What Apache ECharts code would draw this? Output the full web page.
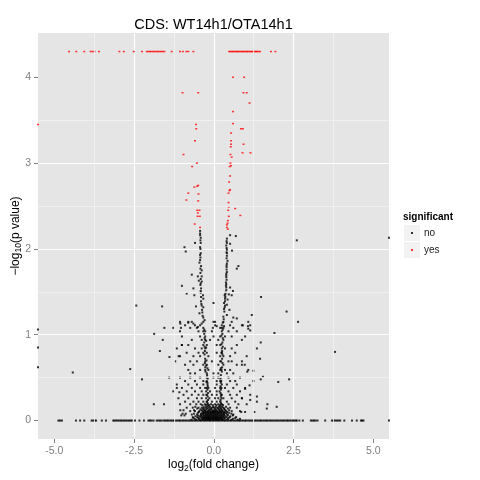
<!DOCTYPE html>
<html><head><meta charset="utf-8">
<script src="https://cdn.jsdelivr.net/npm/echarts@6/dist/echarts.min.js"></script>
<style>html,body{margin:0;padding:0;background:#fff}#c{width:480px;height:480px}</style>
</head><body><div id="c"></div>
<script>
// axis limits (ggplot-style 5% expansion), ticks and minor grid positions
const X_MIN = -5.51, X_MAX = 5.49, Y_MIN = -0.215, Y_MAX = 4.516;
const xTicks = [-5, -2.5, 0, 2.5, 5];
const yTicks = [0, 1, 2, 3, 4];
const xMinor = [-3.75, -1.25, 1.25, 3.75];
const yMinor = [0.5, 1.5, 2.5, 3.5];
const categories = ['no', 'yes'];

// significant = yes : points at the minimum p-value (-log10 p = 4.30)
const yesTopY = 4.30;
const yesTopX = [-4.54,-4.31,-4.06,-3.86,-3.80,-3.74,-3.60,-2.96,-2.82,-2.51,-2.25,-2.10,-2.05,-2.00,-1.95,-1.90,-1.85,-1.80,-1.75,-1.70,-1.65,-1.60,-1.55,-1.32,-1.06,-0.97,-0.86,-0.80,-0.64,
  0.48,0.52,0.56,0.60,0.64,0.68,0.72,0.76,0.80,0.84,0.88,0.92,0.96,1.00,1.04,1.08,1.12,1.16,1.20,1.24,1.28,1.32,1.36,1.40,1.45,1.79,1.93];
// significant = yes : other points [log2FC, -log10 p]
const yesPoints = [[-Infinity,3.45],[-0.98,3.82],[-0.49,3.82],[0.60,4.0],[0.95,4.0],[0.93,3.82],[1.03,3.82],[1.12,3.70],[0.60,3.60],[0.60,3.46],
  [-0.56,3.45],[-0.55,3.40],[0.54,3.35],[0.85,3.40],[0.91,3.40],[-0.59,3.26],[0.54,3.26],[0.54,3.22],[0.93,3.22],[0.53,3.19],[0.90,3.12],[1.15,3.12],
  [-0.95,3.10],[0.52,3.10],[0.56,3.07],[-0.53,3.0],[0.52,3.0],[0.54,2.97],[-0.68,2.96],[0.50,2.96],[0.51,2.85],[0.48,2.78],[-0.49,2.74],[-0.52,2.73],
  [-0.61,2.72],[0.51,2.69],[0.49,2.68],[-0.80,2.65],[-0.48,2.64],[0.46,2.65],[-0.86,2.57],[-0.49,2.56],[0.46,2.54],[0.67,2.47],[0.47,2.49],[-0.52,2.45],
  [-0.45,2.45],[0.45,2.45],[-0.50,2.42],[-0.51,2.38],[-0.44,2.38],[0.83,2.39],[0.47,2.38],[-0.60,2.29],[-0.43,2.25],[0.44,2.33],[0.43,2.30],[0.41,2.28],
  [0.41,2.25],[0.44,2.23]];

// significant = no : scattered points [log2FC, -log10 p]
const noPoints = [[-0.43,2.21],[-0.43,2.18],[-0.43,2.16],[-0.41,2.13],[0.51,2.16],[0.69,2.15],[-0.59,2.07],[-0.41,2.07],[0.41,2.12],[0.51,2.06],
  [0.39,2.04],[-0.92,2.02],[-0.88,1.97],[-0.43,2.02],[-0.41,1.95],[0.41,1.99],[0.57,1.98],[0.41,1.95],[0.43,1.86],[0.77,1.80],[0.72,1.77],[-0.45,1.84],
  [-0.40,1.80],[-0.38,1.75],[-0.69,1.70],[0.41,1.73],[0.39,1.71],[-0.50,1.68],[-0.38,1.68],[-0.47,1.63],[-0.38,1.62],[0.39,1.59],[0.39,1.55],[0.51,1.55],
  [-1.0,1.57],[-0.64,1.54],[-0.40,1.54],[-0.41,1.49],[0.39,1.52],[0.60,1.51],[-0.85,1.48],[-0.61,1.46],[-0.34,1.46],[-0.33,1.42],[0.34,1.46],[0.47,1.47],
  [0.35,1.42],[0.43,1.41],[0.56,1.46],[1.48,1.44],[-1.62,1.33],[-0.56,1.33],[-0.33,1.32],[-0.01,1.37],[0.32,1.37],[0.41,1.35],[0.32,1.30],[0.49,1.29],
  [-0.45,1.25],[0.41,1.23],[0.30,1.21],[1.19,1.23],[-0.33,1.20],[-0.29,1.17],[0.61,1.20],[-0.80,1.14],[-0.64,1.13],[-0.38,1.13],[0.04,1.15],[0.28,1.14],
  [0.72,1.19],[0.91,1.11],[1.07,1.10],[-1.55,1.08],[-1.03,1.08],[-0.50,1.09],[-0.03,1.08],[0.09,1.10],[0.25,1.08],[0.32,1.10],
  [-0.42,2.10],[-0.42,1.90],[-0.43,1.87],[-0.42,1.72],[-0.41,1.65],[-0.42,1.58],[-0.41,1.51],[-0.40,1.39],[-0.39,1.36],[-0.37,1.29],[-0.35,1.22],
  [-0.42,2.00],[-0.43,1.93],[-0.42,1.77],[-0.41,1.60],[-0.40,1.44],[-0.38,1.34],[-0.36,1.26],
  [0.40,2.09],[0.40,2.01],[0.41,1.92],[0.40,1.89],[0.41,1.83],[0.40,1.79],[0.40,1.76],[0.39,1.67],[0.40,1.64],[0.38,1.61],[0.37,1.49],[0.36,1.44],
  [0.35,1.39],[0.34,1.32],[0.33,1.27],[0.31,1.18],[0.41,2.07],[0.40,1.96],[0.40,1.81],[0.39,1.69],[0.38,1.57],[0.36,1.47],[0.35,1.34],
  [-0.30,1.06],[-0.30,1.01],[-0.29,0.96],[-0.30,0.91],[-0.29,0.86],[-0.28,0.81],[-0.29,0.77],[-0.27,0.72],[-0.28,0.67],[-0.27,0.62],[-0.26,0.57],
  [-0.20,0.61],[-0.21,0.53],[-0.19,0.49],[-0.20,0.44],[-0.19,0.40],[-0.20,0.36],[-0.18,0.32],[-0.19,0.28],[-0.18,0.24],[-0.19,0.20],[-0.18,0.17],
  [-0.24,0.93],[-0.24,0.85],[-0.23,0.70],[-0.24,0.64],[-0.23,0.45],[-0.22,0.38],[-0.23,0.30],[-0.22,0.22],
  [0.28,1.06],[0.27,1.01],[0.28,0.96],[0.27,0.91],[0.28,0.86],[0.26,0.81],[0.27,0.77],[0.26,0.72],[0.27,0.67],[0.26,0.62],[0.25,0.57],
  [0.22,0.61],[0.22,0.53],[0.21,0.49],[0.22,0.44],[0.21,0.40],[0.22,0.36],[0.21,0.32],[0.22,0.28],[0.21,0.24],[0.22,0.21],[0.21,0.17],
  [0.24,0.99],[0.24,0.89],[0.24,0.79],[0.23,0.69],[0.24,0.59],[0.23,0.46],[0.24,0.38],[0.23,0.30],[0.24,0.26],[0.23,0.19],
  [-Infinity,1.06],[-Infinity,0.85],[-Infinity,0.62],[-2.43,1.34],[-1.87,1.01],[-1.60,0.94],[-1.69,0.81],[-4.42,0.56],[-2.62,0.60],[-2.25,0.48],
  [-1.39,0.74],[-1.40,0.50],[-1.88,0.19],[-1.56,0.19],[-1.05,1.13],[-1.10,0.75],[-1.0,0.88],[-1.16,0.38],[-1.08,0.33],
  [2.60,2.10],[Infinity,2.13],[2.28,1.27],[2.64,1.15],[1.90,1.02],[1.47,0.91],[3.80,0.80],[1.45,0.72],[0.88,0.65],[0.97,0.65],[1.24,0.58],[1.05,0.57],
  [1.54,0.51],[1.47,0.48],[2.36,0.48],[2.02,0.45],[1.12,0.41],[0.98,0.37],[0.88,0.26],[1.14,0.24],[1.35,0.28],[1.68,0.19],[1.97,0.16],[1.66,0.14],
  [1.27,0.10],[0.86,0.10],[0.98,0.10],[1.08,1.07],[1.14,1.05],[-1.05,0.12],[-0.95,0.12],[-0.98,0.08],[-0.88,0.08],[-1.02,0.06],[-0.92,0.06]];

// significant = no : dense core, rows of [-log10 p, [log2FC ...]]
const noRows = [
  [1.15,[-1.06,-0.80,-0.69,-0.33,-0.01,0.30,0.56,1.08]],
  [1.11,[-0.90,-0.59,-0.43,0.04,0.25,0.51,0.88,1.14]],
  [1.08,[-1.27,-0.74,-0.53,-0.33,0.20,0.30,0.61]],
  [1.04,[-1.06,-0.48,-0.33,-0.27,-0.06,0.25,0.46,0.72]],
  [0.98,[-1.00,-0.43,-0.27,-0.01,0.20,0.35,0.56,0.98]],
  [0.94,[-0.69,-0.38,-0.27,-0.12,0.14,0.30,0.88]],
  [0.88,[-1.00,-0.80,-0.33,-0.22,0.09,0.20,0.72]],
  [0.84,[-1.16,-0.59,-0.38,-0.27,0.25,0.35,0.56,1.35]],
  [0.79,[-0.85,-0.48,-0.33,-0.22,0.09,0.25,0.67]],
  [0.75,[-1.06,-0.64,-0.43,-0.17,0.20,0.30,0.51,1.03]],
  [0.69,[-1.21,-0.74,-0.53,-0.27,-0.06,0.20,0.46,0.56,0.88]],
  [0.65,[-0.90,-0.64,-0.33,-0.22,0.14,0.30,0.72]],
  [0.59,[-0.80,-0.43,-0.27,-0.17,0.20,0.35,0.51,1.08]],
  [0.55,[-0.74,-0.59,-0.22,-0.01,0.14,0.41,0.61]],
  [0.50,[-1.06,-0.74,-0.43,-0.22,-0.01,0.14,0.46,0.82]],
  [0.46,[-0.90,-0.59,-0.33,-0.22,0.09,0.20,0.51,0.67,1.24]],
  [0.42,[-1.16,-0.80,-0.53,-0.33,-0.20,0.09,0.25,0.41,0.72]],
  [0.38,[-1.00,-0.69,-0.43,-0.27,-0.17,0.04,0.20,0.35,0.61,0.98]],
  [0.34,[-1.27,-0.85,-0.59,-0.38,-0.24,-0.12,0.09,0.18,0.46,0.82]],
  [0.30,[-0.95,-0.69,-0.48,-0.33,-0.22,-0.06,0.09,0.25,0.51,0.72,1.14]],
  [0.26,[-1.11,-0.80,-0.53,-0.38,-0.24,-0.14,0.04,0.14,0.30,0.56,0.88]],
  [0.22,[-0.90,-0.64,-0.48,-0.33,-0.22,-0.06,0.09,0.20,0.41,0.67,1.35]],
  [0.19,[-1.06,-0.74,-0.55,-0.41,-0.28,-0.20,-0.09,0.04,0.14,0.25,0.46,0.77,1.03]],
  [0.18,[-0.36,-0.25,-0.15,-0.03,0.08,0.18,0.29]],
  [0.16,[-0.58,-0.32,-0.23,-0.12,-0.02,0.06,0.16,0.26,0.38]],
  [0.15,[-0.85,-0.66,-0.48,-0.38,-0.27,-0.17,-0.06,0.01,0.11,0.20,0.30,0.51,0.72]],
  [0.14,[-0.52,-0.34,-0.21,-0.10,0.03,0.13,0.22,0.32,0.44]],
  [0.13,[-0.42,-0.31,-0.24,-0.14,-0.08,0.06,0.16,0.24,0.34]],
  [0.12,[-0.62,-0.38,-0.29,-0.16,-0.05,0.01,0.08,0.18,0.26,0.36,0.48]],
  [0.11,[-0.74,-0.59,-0.45,-0.35,-0.27,-0.20,-0.12,-0.03,0.04,0.11,0.20,0.28,0.39,0.56,0.82]],
  [0.10,[-0.47,-0.32,-0.25,-0.18,-0.11,-0.06,0.00,0.06,0.13,0.19,0.25,0.33,0.42]],
  [0.09,[-0.50,-0.36,-0.30,-0.23,-0.17,-0.10,-0.04,0.02,0.08,0.14,0.22,0.30,0.36,0.48]],
  [0.08,[-0.62,-0.40,-0.33,-0.26,-0.19,-0.13,-0.07,-0.01,0.05,0.11,0.17,0.24,0.31,0.40,0.55]],
  [0.07,[-0.69,-0.53,-0.41,-0.33,-0.26,-0.20,-0.14,-0.08,-0.01,0.05,0.11,0.18,0.25,0.32,0.43,0.61]],
  [0.06,[-0.50,-0.40,-0.32,-0.25,-0.19,-0.13,-0.06,0.00,0.06,0.12,0.19,0.26,0.33,0.44,0.60]],
  [0.05,[-0.58,-0.45,-0.36,-0.29,-0.22,-0.16,-0.10,-0.03,0.03,0.09,0.15,0.22,0.29,0.37,0.52]],
  [0.04,[-0.66,-0.52,-0.41,-0.33,-0.27,-0.21,-0.15,-0.08,-0.02,0.04,0.10,0.17,0.23,0.31,0.40,0.50,0.70]],
  [0.03,[-0.64,-0.48,-0.38,-0.30,-0.24,-0.18,-0.12,-0.05,0.01,0.07,0.13,0.20,0.26,0.34,0.46,0.67]],
  [0.02,[-0.60,-0.47,-0.37,-0.31,-0.24,-0.18,-0.12,-0.06,0.00,0.07,0.13,0.19,0.26,0.33,0.44,0.60,0.82]],
  [0.01,[-0.70,-0.55,-0.43,-0.34,-0.27,-0.21,-0.15,-0.09,-0.02,0.04,0.10,0.16,0.23,0.29,0.40,0.55,0.75]]
];

// significant = no : genes with p = 1 (-log10 p = 0)
const noZeroX = [-4.87,-4.82,-4.76,-4.32,-4.19,-4.06,-3.83,-3.78,-3.73,-3.69,-3.51,-3.38,
  -3.15,-3.11,-3.06,-3.01,-2.96,-2.91,-2.86,-2.81,-2.76,-2.71,-2.66,-2.61,-2.57,-2.47,-2.33,-2.19,-2.05,-2.00,-1.95,-1.89,
  -1.79,-1.74,-1.69,-1.64,-1.58,-1.53,-1.48,-1.44,-1.39,-1.34,-1.29,-1.25,-1.20,-1.15,-1.10,-1.06,-1.01,-0.96,-0.92,-0.87,
  -0.82,-0.77,-0.73,-0.68,-0.63,-0.58,-0.54,-0.49,-0.44,-0.40,-0.35,-0.30,-0.26,-0.21,-0.16,-0.12,-0.07,-0.02,0.02,0.07,
  0.12,0.16,0.21,0.26,0.31,0.35,0.40,0.45,0.49,0.54,0.59,0.64,0.68,0.73,0.78,0.82,0.87,0.92,0.97,1.01,1.06,1.11,1.15,
  1.20,1.25,1.30,1.34,1.39,1.44,1.48,1.53,1.58,1.63,1.67,1.72,1.77,1.81,1.86,1.91,1.96,2.00,2.05,2.10,2.15,2.19,2.24,
  2.29,2.33,2.38,2.43,2.48,2.52,2.57,2.60,2.68,2.79,3.04,3.09,3.14,3.19,3.25,3.49,3.70,3.75,3.80,3.86,3.91,3.96,
  4.09,4.33,4.48,4.61,4.65,4.69,Infinity];

// ggplot draws infinite values on the panel border
const clampX = v => Math.max(X_MIN, Math.min(X_MAX, v));
const noData = [];
noPoints.forEach(p => noData.push([clampX(p[0]), p[1]]));
noRows.forEach(r => r[1].forEach(x => noData.push([clampX(x), r[0]])));
noZeroX.forEach(x => noData.push([clampX(x), 0]));
const yesData = [];
yesTopX.forEach(x => yesData.push([clampX(x), yesTopY]));
yesPoints.forEach(p => yesData.push([clampX(p[0]), p[1]]));

const FONT = 'Liberation Sans, Arial, sans-serif';
const rich = {a: {fontSize: 12, color: '#000', fontFamily: FONT, lineHeight: 16, verticalAlign: 'middle'},
              s: {fontSize: 8.5, color: '#000', fontFamily: FONT, lineHeight: 9, verticalAlign: 'bottom'}};
const chart = echarts.init(document.getElementById('c'), null, {renderer: 'canvas'});
chart.setOption({
  animation: false,
  backgroundColor: '#ffffff',
  textStyle: {fontFamily: FONT},
  title: [
    {text: 'CDS: WT14h1/OTA14h1', left: 213.5, top: 17, textAlign: 'center', padding: 0,
     textStyle: {fontSize: 14.5, fontWeight: 'normal', color: '#000', fontFamily: FONT}},
    {text: 'significant', left: 403, top: 212, padding: 0,
     textStyle: {fontSize: 10, fontWeight: 'bold', color: '#000', fontFamily: FONT}}
  ],
  graphic: [
    {type: 'rect', left: 404, top: 225, shape: {width: 16, height: 16}, style: {fill: '#F2F2F2'}, z: 0},
    {type: 'rect', left: 404, top: 242, shape: {width: 16, height: 16}, style: {fill: '#F2F2F2'}, z: 0}
  ],
  legend: {
    data: categories, orient: 'vertical', left: 411, top: 227, padding: 0,
    itemWidth: 2, itemHeight: 2, itemGap: 5, selectedMode: false,
    textStyle: {fontSize: 10, color: '#1a1a1a', lineHeight: 12, padding: [0, 0, 0, 6], fontFamily: FONT}
  },
  grid: {left: 38, top: 33, right: 91, bottom: 41, show: true, backgroundColor: '#E5E5E5', borderWidth: 0,
         containLabel: false, outerBoundsMode: 'none'},
  xAxis: {type: 'value', min: X_MIN, max: X_MAX, minInterval: 2.5, maxInterval: 2.5, z: 1,
     name: '{a|log}{s|2}{a|(fold change)}', nameLocation: 'middle', nameGap: 18, nameMoveOverlap: false,
     nameTextStyle: {rich: rich},
     axisLine: {show: false, onZero: false},
     axisTick: {show: true, length: 4, customValues: xTicks, lineStyle: {color: '#7F7F7F', width: 1}},
     axisLabel: {customValues: xTicks, margin: 7, color: '#7F7F7F', fontSize: 10.5, fontFamily: FONT,
                 formatter: v => v.toFixed(1)},
     splitLine: {show: true, showMinLine: false, showMaxLine: false, lineStyle: {color: '#FFFFFF', width: 1.2}}},
  yAxis: {type: 'value', min: Y_MIN, max: Y_MAX, minInterval: 1, maxInterval: 1, z: 1,
     name: '{a|\u2212log}{s|10}{a|(p value)}', nameLocation: 'middle', nameGap: 14.5, nameRotate: 90, nameMoveOverlap: false,
     nameTextStyle: {rich: rich},
     axisLine: {show: false, onZero: false},
     axisTick: {show: true, length: 4, customValues: yTicks, lineStyle: {color: '#7F7F7F', width: 1}},
     axisLabel: {customValues: yTicks, margin: 7, color: '#7F7F7F', fontSize: 10.5, fontFamily: FONT},
     splitLine: {show: true, showMinLine: false, showMaxLine: false, lineStyle: {color: '#FFFFFF', width: 1.2}}},
  series: [
    {name: 'minor grid', type: 'scatter', data: [], z: 0.5, silent: true,
     markLine: {silent: true, symbol: 'none', animation: false, label: {show: false},
       lineStyle: {color: '#F2F2F2', width: 0.8, type: 'solid'}, emphasis: {disabled: true},
       data: xMinor.map(v => ({xAxis: v})).concat(yMinor.map(v => ({yAxis: v})))}},
    {name: 'no', type: 'scatter', data: noData, symbol: 'rect', symbolSize: 2,
     itemStyle: {color: '#000000'}, z: 2, silent: true},
    {name: 'yes', type: 'scatter', data: yesData, symbol: 'rect', symbolSize: [2, 1.5],
     itemStyle: {color: '#FF0000'}, z: 3, silent: true}
  ]
});
</script></body></html>
